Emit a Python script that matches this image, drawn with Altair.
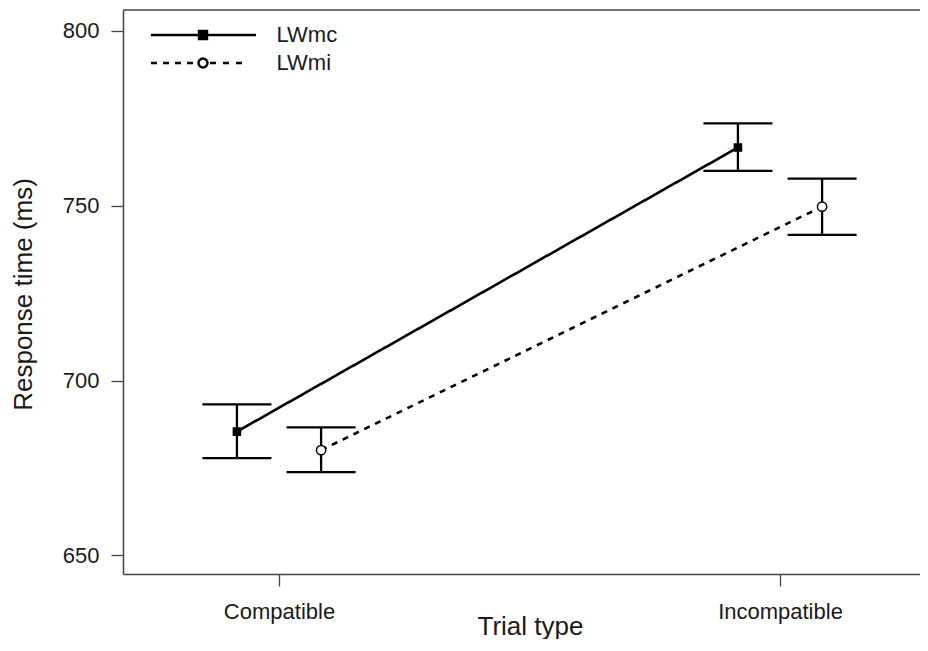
import json
import altair as alt
import pandas as pd

# ---- data ----
categories = ["Compatible", "Incompatible"]
series = ["LWmc", "LWmi"]
mean_LWmc = [685.4, 766.6]
low_LWmc = [677.8, 759.9]
high_LWmc = [693.2, 773.5]
mean_LWmi = [680.1, 749.7]
low_LWmi = [673.8, 741.6]
high_LWmi = [686.6, 757.7]
y_ticks = [650, 700, 750, 800]

rows = []
for s, m, lo, hi in [("LWmc", mean_LWmc, low_LWmc, high_LWmc),
                     ("LWmi", mean_LWmi, low_LWmi, high_LWmi)]:
    for i, c in enumerate(categories):
        rows.append({"series": s, "trial": c, "ci": i,
                     "mean": m[i], "lo": lo[i], "hi": hi[i]})
df = pd.DataFrame(rows)

FONT = "Liberation Sans"
DODGE = 0.084
AXC = "#444444"
W, H = 805, 564

base = alt.Chart(df).transform_calculate(
    xpos=f"datum.ci + (datum.series == 'LWmc' ? -{DODGE} : {DODGE})"
)

xscale = alt.Scale(domain=[-0.3114, 1.2954], nice=False, zero=False)
yscale = alt.Scale(domain=[644.7, 805.9], nice=False, zero=False)

label_expr = f"{json.dumps(categories)}[datum.value]"

x_bottom = alt.Axis(
    orient="bottom", values=[0, 1], labelExpr=label_expr, title="Trial type",
    grid=False, domain=True, domainColor=AXC, domainWidth=1.5,
    ticks=True, tickColor=AXC, tickWidth=1.3, tickSize=12,
    labelFont=FONT, labelFontSize=22, labelColor="#1a1a1a", labelPadding=15,
    titleFont=FONT, titleFontSize=26, titleFontWeight="normal", titleColor="#1a1a1a",
    titleX=407, titleY=60, titleBaseline="alphabetic", titleAlign="center",
)
y_left = alt.Axis(
    orient="left", values=y_ticks, title="Response time (ms)",
    grid=False, domain=True, domainColor=AXC, domainWidth=1.5,
    ticks=True, tickColor=AXC, tickWidth=1.3, tickSize=12,
    labelFont=FONT, labelFontSize=22, labelColor="#1a1a1a", labelPadding=12,
    titleFont=FONT, titleFontSize=26, titleFontWeight="normal", titleColor="#1a1a1a",
    titleAngle=270, titleX=-92, titleY=284, titleBaseline="alphabetic",
    titleAlign="center",
)

lines = base.mark_line(color="black", strokeWidth=2.6).encode(
    x=alt.X("xpos:Q", scale=xscale, axis=x_bottom),
    y=alt.Y("mean:Q", scale=yscale, axis=y_left),
    detail="series:N",
    strokeDash=alt.StrokeDash("series:N", scale=alt.Scale(domain=series, range=[[1, 0], [6, 6]]), legend=None),
)

bars = base.mark_rule(color="black", strokeWidth=2.3).encode(
    x=alt.X("xpos:Q"),
    y=alt.Y("lo:Q"),
    y2="hi:Q",
)

caps = base.transform_fold(["lo", "hi"], as_=["end", "val"]).mark_tick(
    color="black", orient="horizontal", size=69, thickness=2.3, opacity=1
).encode(
    x=alt.X("xpos:Q"),
    y=alt.Y("val:Q"),
)

points = base.mark_point(filled=True, opacity=1, stroke="black", strokeWidth=1.5).encode(
    x=alt.X("xpos:Q"),
    y=alt.Y("mean:Q"),
    shape=alt.Shape("series:N", scale=alt.Scale(domain=series, range=["square", "circle"]), legend=None),
    fill=alt.Fill("series:N", scale=alt.Scale(domain=series, range=["black", "white"]), legend=None),
    size=alt.Size("series:N", scale=alt.Scale(domain=series, range=[50, 85]), legend=None),
)

# ---- legend symbols: line + marker drawn as custom paths (unit = 8 px) ----
U = 8.0
def p(v):
    return f"{v / U:.4f}"

solid_path = (f"M{p(-52)},0H{p(53)}"
              f"M{p(-4)},{p(-4)}H{p(4)}V{p(4)}H{p(-4)}Z")
dash_segments = [(-52, -46), (-40, -34), (-28, -22), (-16, -10), (7, 13), (20, 26), (33, 39)]
r = 4.5
dashed_path = "".join(f"M{p(a)},0H{p(b)}" for a, b in dash_segments)
dashed_path += (f"M{p(-r)},0A{p(r)},{p(r)} 0 1,0 {p(r)},0"
                f"A{p(r)},{p(r)} 0 1,0 {p(-r)},0Z")

legend_props = dict(
    title=None, orient="none", legendX=69, legendY=14, padding=0,
    symbolSize=256, symbolStrokeWidth=2.4, symbolStrokeColor="black",
    labelFont=FONT, labelFontSize=22, labelColor="#1a1a1a", labelOffset=62.5,
    rowPadding=6,
)

legend_layer = base.transform_filter("false").mark_point(
    filled=True, opacity=1, strokeWidth=2.4
).encode(
    shape=alt.Shape("series:N", scale=alt.Scale(domain=series, range=[solid_path, dashed_path]),
                    legend=alt.Legend(**legend_props)),
    fill=alt.Fill("series:N", scale=alt.Scale(domain=series, range=["black", "white"]),
                  legend=alt.Legend(**legend_props)),
    stroke=alt.Stroke("series:N", scale=alt.Scale(domain=series, range=["black", "black"]),
                      legend=alt.Legend(**legend_props)),
)

# the plot box runs past the right edge of the picture, as in the reference
chart = alt.layer(lines, bars, caps, points, legend_layer).resolve_scale(
    shape="independent", fill="independent", size="independent", stroke="independent"
).properties(
    width=W, height=H,
    padding={"left": 115, "top": 2, "right": -8, "bottom": 65},
    autosize=alt.AutoSizeParams(type="none"),
    background="white",
).configure_view(
    stroke=AXC, strokeWidth=1.5, strokeDash=[W, 2 * (W + H)]
).configure_axis(grid=False)

chart.save("out.html", embed_options={"renderer": "svg", "actions": False})
